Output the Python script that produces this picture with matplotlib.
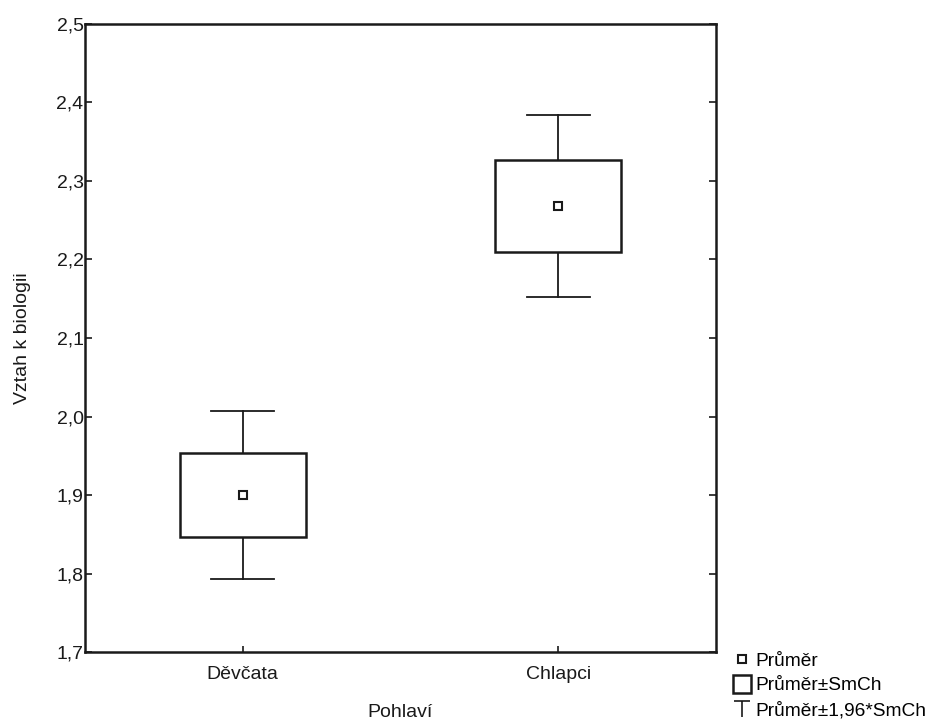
import matplotlib
matplotlib.use('Agg')
import matplotlib.pyplot as plt
from matplotlib.patches import Rectangle
from matplotlib.lines import Line2D
from matplotlib.path import Path
from matplotlib.ticker import FuncFormatter, MultipleLocator

plt.rcParams['font.family'] = ['Liberation Sans', 'DejaVu Sans']

# data
categories = ["Děvčata", "Chlapci"]
means = [1.900, 2.268]
se = [0.054, 0.059]          # SmCh
ci = [0.107, 0.116]          # 1,96*SmCh
legend_labels = ["Průměr", "Průměr±SmCh", "Průměr±1,96*SmCh"]

ink = "#1a1a1a"
box_w = 0.4
cap_w = 0.2

fig = plt.figure(figsize=(9.36, 7.24), dpi=100)
ax = fig.add_axes([0.0908, 0.0994, 0.6742, 0.8675])

for i, (m, s, c) in enumerate(zip(means, se, ci)):
    # whiskers
    ax.plot([i, i], [m + s, m + c], color=ink, lw=1.3)
    ax.plot([i, i], [m - s, m - c], color=ink, lw=1.3)
    ax.plot([i - cap_w / 2, i + cap_w / 2], [m + c, m + c], color=ink, lw=1.3)
    ax.plot([i - cap_w / 2, i + cap_w / 2], [m - c, m - c], color=ink, lw=1.3)
    # box
    ax.add_patch(Rectangle((i - box_w / 2, m - s), box_w, 2 * s,
                           facecolor="white", edgecolor=ink, lw=1.8, zorder=3))
    # mean
    ax.plot(i, m, marker="s", ms=5.5, mfc="white", mec=ink, mew=1.5, zorder=4)

ax.set_xlim(-0.5, 1.5)
ax.set_ylim(1.7, 2.5)
ax.set_xticks(range(len(categories)))
ax.set_xticklabels(categories)
ax.yaxis.set_major_locator(MultipleLocator(0.1))
ax.yaxis.set_major_formatter(FuncFormatter(lambda v, p: f"{v:.1f}".replace(".", ",")))
ax.tick_params(axis="y", which="both", direction="in", length=5, width=1.2, pad=1,
               left=True, right=True, labelsize=14, colors=ink)
ax.tick_params(axis="x", direction="in", length=4, width=1.2, pad=10,
               labelsize=14, colors=ink)
for sp in ax.spines.values():
    sp.set_linewidth(1.8)
    sp.set_color(ink)

ax.set_xlabel("Pohlaví", fontsize=14, labelpad=15, color=ink)
ax.set_ylabel("Vztah k biologii", fontsize=14, labelpad=18, color=ink)

# legend with custom symbols
t_path = Path([(-1, 1), (1, 1), (0, 1), (0, -1)],
              [Path.MOVETO, Path.LINETO, Path.MOVETO, Path.LINETO])
handles = [
    Line2D([], [], ls="none", marker="s", ms=5.5, mfc="white", mec=ink, mew=1.5),
    Line2D([], [], ls="none", marker="s", ms=13, mfc="white", mec=ink, mew=1.8),
    Line2D([], [], ls="none", marker=t_path, ms=12, mfc="none", mec=ink, mew=1.2),
]
fig.legend(handles, legend_labels, loc="lower left", bbox_to_anchor=(0.770, -0.012),
           frameon=False, fontsize=13.8, handlelength=0.8, handletextpad=0.3,
           labelspacing=0.38, borderpad=0.2)

plt.savefig("out.png", dpi=100)
plt.close()
